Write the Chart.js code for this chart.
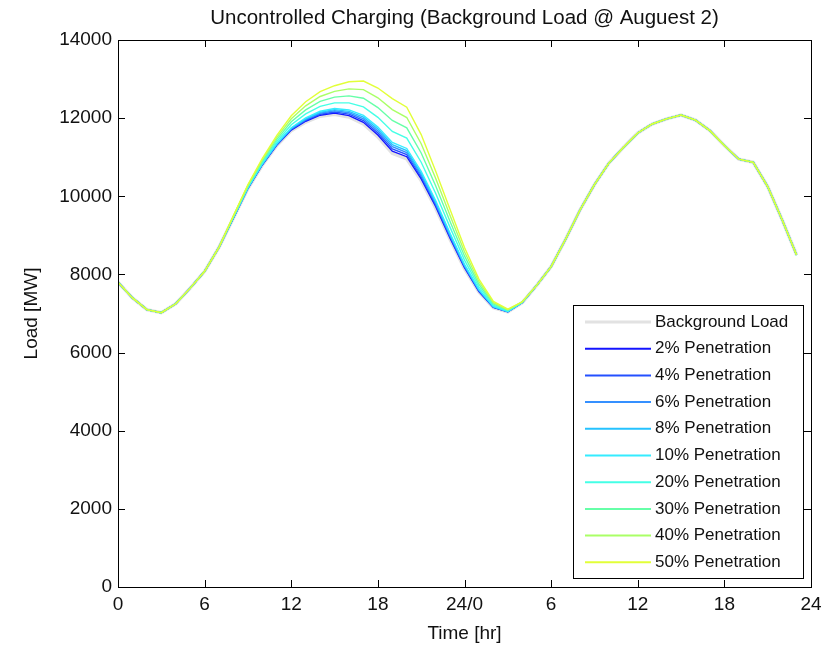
<!DOCTYPE html>
<html>
<head>
<meta charset="utf-8">
<title>Uncontrolled Charging</title>
<script src="https://cdn.jsdelivr.net/npm/chart.js@4.4.0/dist/chart.umd.min.js"></script>
<style>
  html, body { margin: 0; padding: 0; background: #fff; }
  #wrap { width: 829px; height: 645px; }
</style>
</head>
<body>
<div id="wrap"><canvas id="loadChart" width="829" height="645"></canvas></div>
<script>
// hourly samples over two days (0-47 h)
const hours = [0, 1, 2, 3, 4, 5, 6, 7, 8, 9, 10, 11, 12, 13, 14, 15, 16, 17, 18, 19, 20, 21, 22, 23,
  24, 25, 26, 27, 28, 29, 30, 31, 32, 33, 34, 35, 36, 37, 38, 39, 40, 41, 42, 43, 44, 45, 46, 47];
const xTickLabels = ['0', '6', '12', '18', '24/0', '6', '12', '18', '24'];
const yTickLabels = ['0', '2000', '4000', '6000', '8000', '10000', '12000', '14000'];

// load in MW
const background = [7800, 7400, 7100, 7020, 7250, 7650, 8080, 8700,
  9450, 10200, 10800, 11300, 11680, 11900, 12050, 12100, 12030, 11850, 11520, 11100, 10960, 10400, 9700, 8900, 8150, 7550, 7150, 7040, 7280,
  7720, 8200, 8900, 9650, 10300, 10850, 11250, 11620, 11850, 11980, 12080, 11950, 11680, 11300, 10950, 10870, 10250, 9400, 8500];
const pen2 = [7800, 7400, 7100, 7020, 7250, 7650, 8080, 8700,
  9452, 10204, 10807, 11310, 11695, 11921, 12075, 12129, 12066, 11894, 11570, 11156, 11013, 10447, 9738, 8930, 8172, 7563, 7156, 7043, 7281,
  7720, 8200, 8900, 9650, 10300, 10850, 11250, 11620, 11850, 11980, 12080, 11950, 11680, 11300, 10950, 10870, 10250, 9400, 8500];
const pen4 = [7800, 7400, 7100, 7020, 7250, 7650, 8080, 8700,
  9455, 10208, 10814, 11321, 11710, 11942, 12100, 12158, 12102, 11938, 11620, 11212, 11066, 10494, 9776, 8961, 8193, 7576, 7163, 7046, 7282,
  7720, 8200, 8900, 9650, 10300, 10850, 11250, 11620, 11850, 11980, 12080, 11950, 11680, 11300, 10950, 10870, 10250, 9400, 8500];
const pen6 = [7800, 7400, 7100, 7020, 7250, 7650, 8080, 8700,
  9457, 10212, 10820, 11331, 11726, 11962, 12126, 12188, 12138, 11982, 11670, 11268, 11118, 10542, 9814, 8991, 8215, 7590, 7169, 7048, 7282,
  7720, 8200, 8900, 9650, 10300, 10850, 11250, 11620, 11850, 11980, 12080, 11950, 11680, 11300, 10950, 10870, 10250, 9400, 8500];
const pen8 = [7800, 7400, 7100, 7020, 7250, 7650, 8080, 8700,
  9460, 10216, 10827, 11342, 11741, 11983, 12151, 12217, 12174, 12026, 11720, 11324, 11171, 10589, 9852, 9022, 8236, 7603, 7176, 7051, 7283,
  7720, 8200, 8900, 9650, 10300, 10850, 11250, 11620, 11850, 11980, 12080, 11950, 11680, 11300, 10950, 10870, 10250, 9400, 8500];
const pen10 = [7800, 7400, 7100, 7020, 7250, 7650, 8080, 8700,
  9462, 10220, 10834, 11352, 11756, 12004, 12176, 12246, 12210, 12070, 11770, 11380, 11224, 10636, 9890, 9052, 8258, 7616, 7182, 7054, 7284,
  7720, 8200, 8900, 9650, 10300, 10850, 11250, 11620, 11850, 11980, 12080, 11950, 11680, 11300, 10950, 10870, 10250, 9400, 8500];
const pen20 = [7800, 7400, 7100, 7020, 7250, 7650, 8080, 8700,
  9474, 10240, 10868, 11404, 11832, 12108, 12302, 12392, 12390, 12290, 12020, 11660, 11488, 10872, 10080, 9204, 8366, 7682, 7214, 7068, 7288,
  7720, 8200, 8900, 9650, 10300, 10850, 11250, 11620, 11850, 11980, 12080, 11950, 11680, 11300, 10950, 10870, 10250, 9400, 8500];
const pen30 = [7800, 7400, 7100, 7020, 7250, 7650, 8080, 8700,
  9486, 10260, 10902, 11456, 11908, 12212, 12428, 12538, 12570, 12510, 12270, 11940, 11752, 11108, 10270, 9356, 8474, 7748, 7246, 7082, 7292,
  7720, 8200, 8900, 9650, 10300, 10850, 11250, 11620, 11850, 11980, 12080, 11950, 11680, 11300, 10950, 10870, 10250, 9400, 8500];
const pen40 = [7800, 7400, 7100, 7020, 7250, 7650, 8080, 8700,
  9498, 10280, 10936, 11508, 11984, 12316, 12554, 12684, 12750, 12730, 12520, 12220, 12016, 11344, 10460, 9508, 8582, 7814, 7278, 7096, 7296,
  7720, 8200, 8900, 9650, 10300, 10850, 11250, 11620, 11850, 11980, 12080, 11950, 11680, 11300, 10950, 10870, 10250, 9400, 8500];
const pen50 = [7800, 7400, 7100, 7020, 7250, 7650, 8080, 8700,
  9510, 10300, 10970, 11560, 12060, 12420, 12680, 12830, 12930, 12950, 12770, 12500, 12280, 11580, 10650, 9660, 8690, 7880, 7310, 7110, 7300,
  7720, 8200, 8900, 9650, 10300, 10850, 11250, 11620, 11850, 11980, 12080, 11950, 11680, 11300, 10950, 10870, 10250, 9400, 8500];

const seriesNames = ['Background Load', '2% Penetration', '4% Penetration', '6% Penetration', '8% Penetration',
  '10% Penetration', '20% Penetration', '30% Penetration', '40% Penetration', '50% Penetration'];
const seriesData = [background, pen2, pen4, pen6, pen8, pen10, pen20, pen30, pen40, pen50];
const seriesColors = ['#e2e2e2', '#1414ff', '#2450ff', '#3590ff', '#25c2ff',
  '#35ecff', '#45ffe6', '#66ffa8', '#aaff66', '#e2ff38'];

const FONT = "'Liberation Sans', Arial, Helvetica, sans-serif";

const datasets = seriesData.map((d, i) => ({
  label: seriesNames[i],
  data: d,
  borderColor: seriesColors[i],
  borderWidth: i === 0 ? 3.5 : 1.4,
  pointRadius: 0,
  tension: 0,
  fill: false,
  order: seriesData.length - i   // later series drawn on top
}));

// box around the plot with inward ticks on all four sides
const axesBox = {
  id: 'axesBox',
  afterDatasetsDraw(chart) {
    const { ctx, chartArea: a, scales: { x, y } } = chart;
    const len = 7;
    ctx.save();
    ctx.strokeStyle = '#000';
    ctx.lineWidth = 1;
    ctx.beginPath();
    x.ticks.forEach(t => {
      const px = Math.round(x.getPixelForValue(t.value)) + 0.5;
      ctx.moveTo(px, a.bottom); ctx.lineTo(px, a.bottom - len);
      ctx.moveTo(px, a.top); ctx.lineTo(px, a.top + len);
    });
    y.ticks.forEach(t => {
      const py = Math.round(y.getPixelForValue(t.value)) + 0.5;
      ctx.moveTo(a.left, py); ctx.lineTo(a.left + len, py);
      ctx.moveTo(a.right, py); ctx.lineTo(a.right - len, py);
    });
    ctx.stroke();
    ctx.strokeRect(Math.round(a.left) + 0.5, Math.round(a.top) + 0.5,
      Math.round(a.right - a.left), Math.round(a.bottom - a.top));
    ctx.restore();
  }
};

// legend box in the lower right corner of the plot
const boxLegend = {
  id: 'boxLegend',
  afterDraw(chart) {
    const { ctx, chartArea: a } = chart;
    const w = 230, h = 273;
    const right = a.right - 8, bottom = a.bottom - 9;
    const left = right - w, top = bottom - h;
    const rowH = 26.7;
    ctx.save();
    ctx.fillStyle = '#fff';
    ctx.fillRect(left, top, w, h);
    ctx.strokeStyle = '#000';
    ctx.lineWidth = 1;
    ctx.strokeRect(Math.round(left) + 0.5, Math.round(top) + 0.5, w, h);
    ctx.font = '17px ' + FONT;
    ctx.textBaseline = 'middle';
    ctx.textAlign = 'left';
    chart.data.datasets.forEach((ds, i) => {
      const ry = top + 17 + i * rowH;
      ctx.strokeStyle = ds.borderColor;
      ctx.lineWidth = i === 0 ? 3 : 2;
      ctx.beginPath();
      ctx.moveTo(left + 12, ry);
      ctx.lineTo(left + 78, ry);
      ctx.stroke();
      ctx.fillStyle = '#111';
      ctx.fillText(ds.label, left + 82, ry);
    });
    ctx.restore();
  }
};

new Chart(document.getElementById('loadChart'), {
  type: 'line',
  data: { labels: hours, datasets: datasets },
  plugins: [axesBox, boxLegend],
  options: {
    responsive: false,
    animation: false,
    devicePixelRatio: 1,
    layout: { padding: { top: 0, right: 18, bottom: 0, left: 0 } },
    plugins: {
      legend: { display: false },
      tooltip: { enabled: false },
      title: {
        display: true,
        fullSize: false,
        text: 'Uncontrolled Charging (Background Load @ Auguest 2)',
        color: '#111',
        font: { family: FONT, size: 20.5, weight: 'normal' },
        padding: { top: 6, bottom: 9.4 }
      }
    },
    scales: {
      x: {
        type: 'linear',
        min: 0,
        max: 48,
        afterFit: s => { s.height = 58; },
        ticks: {
          stepSize: 6,
          padding: 6,
          color: '#111',
          font: { family: FONT, size: 19 },
          maxRotation: 0,
          callback: (v) => xTickLabels[v / 6]
        },
        grid: { display: false, drawTicks: false },
        border: { display: false },
        title: {
          display: true,
          text: 'Time [hr]',
          color: '#111',
          font: { family: FONT, size: 19 },
          padding: { top: 1, bottom: 0 }
        }
      },
      y: {
        min: 0,
        max: 14000,
        afterFit: s => { s.width = 118; },
        ticks: {
          stepSize: 2000,
          padding: 6,
          color: '#111',
          font: { family: FONT, size: 19 },
          callback: (v) => yTickLabels[v / 2000]
        },
        grid: { display: false, drawTicks: false },
        border: { display: false },
        title: {
          display: true,
          text: 'Load [MW]',
          color: '#111',
          font: { family: FONT, size: 19 },
          padding: { top: 20, bottom: 0 }
        }
      }
    }
  }
});
</script>
</body>
</html>
